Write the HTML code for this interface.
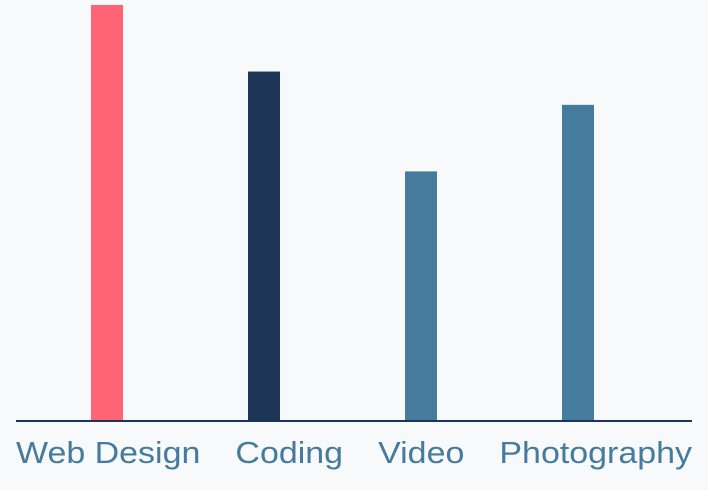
<!DOCTYPE html>
<html><head><meta charset="utf-8">
<style>
html,body{margin:0;padding:0;background:#f7f9fb;}
#chart{position:relative;width:708px;height:490px;overflow:hidden;font-family:"Liberation Sans","DejaVu Sans",sans-serif;}
#labels{position:absolute;left:16px;top:433px;display:flex;gap:32px;white-space:nowrap;transform-origin:0 0;}
#labels span{font-size:31px;color:#457b9d;line-height:40px;}
</style></head>
<body>
<div id="chart">
<svg id="svg" width="708" height="490" style="position:absolute;left:0;top:0">
  <line x1="16" y1="421" x2="692" y2="421" stroke="#1d3557" stroke-width="2"/>
</svg>
<div id="labels"></div>
</div>
<script>
const categories = ["Web Design","Coding","Video","Photography"];
const values = [100, 84, 60, 76];
const colors = ["#ff6475","#1d3557","#457b9d","#457b9d"];
const yMax = 100;
const baseY = 421, topY = 5, barW = 32;
const xStart = 28.5, step = 157;
function yScale(v){ return baseY - (v / yMax) * (baseY - topY); }
function xCenter(i){ return xStart + step * (i + 0.5); }
const svg = document.getElementById('svg');
const labels = document.getElementById('labels');
const ns = "http://www.w3.org/2000/svg";
categories.forEach((c, i) => {
  const s = document.createElement('span');
  s.textContent = c;
  
  
  labels.appendChild(s);
});
const totalW = labels.getBoundingClientRect().width;
labels.style.transform = 'scaleX(' + (676 / totalW) + ')';
categories.forEach((c, i) => {
  const cx = xCenter(i);
  const y = yScale(values[i]);
  const rect = document.createElementNS(ns, 'rect');
  rect.setAttribute('x', cx - barW / 2);
  rect.setAttribute('y', y);
  rect.setAttribute('width', barW);
  rect.setAttribute('height', baseY - y);
  rect.setAttribute('fill', colors[i]);
  
  
  svg.insertBefore(rect, svg.firstChild);
});
</script>
</body></html>
